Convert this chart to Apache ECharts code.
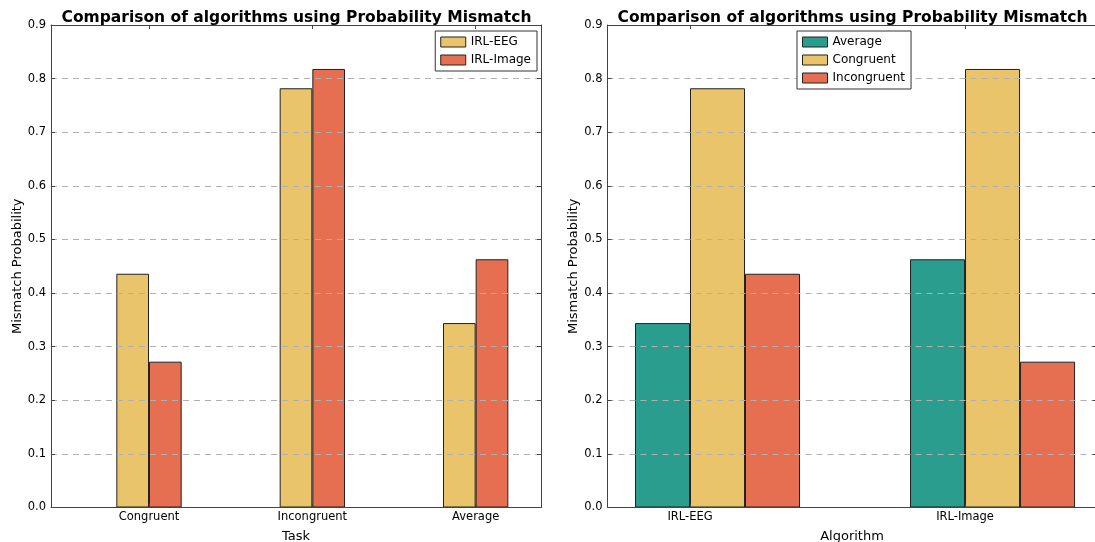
<!DOCTYPE html>
<html>
<head>
<meta charset="utf-8">
<script src="https://cdn.jsdelivr.net/npm/echarts@6/dist/echarts.min.js"></script>
<style>html,body{margin:0;padding:0;background:#fff}#c{width:1095px;height:542px}</style>
</head>
<body>
<div id="c"></div>
<script>
// Left chart data
var tasks = ['Congruent', 'Incongruent', 'Average'];
var irlEEG = [0.436, 0.782, 0.344];
var irlImage = [0.272, 0.818, 0.463];
// Right chart data
var algorithms = ['IRL-EEG', 'IRL-Image'];
var avgVals = [0.344, 0.463];
var congVals = [0.782, 0.818];
var incongVals = [0.436, 0.272];
var yTicks = [0.0, 0.1, 0.2, 0.3, 0.4, 0.5, 0.6, 0.7, 0.8, 0.9];

var C_TEAL = '#2A9D8F', C_YEL = '#E9C46A', C_RED = '#E76F51';
var FONT = 'DejaVu Sans';
var AX = '#444';

var g0 = {left: 51, top: 25, width: 490, height: 482.5, outerBoundsMode: 'none', containLabel: false};
var g1 = {left: 607.5, top: 25, width: 489, height: 482.5, outerBoundsMode: 'none', containLabel: false};
var x0 = {min: -0.6, max: 2.4};
var x1 = {min: -0.3, max: 1.478};
var bw0 = g0.width * 0.2 / (x0.max - x0.min);
var bw1 = g1.width * 0.2 / (x1.max - x1.min);

function idx(arr){ return arr.map(function(_, i){ return i; }); }
function pts(vals, off){ return vals.map(function(v, i){ return [i + off, v]; }); }

function xAxes(gi, lim, cats, name){
  var ticks = idx(cats);
  return [{
    type: 'value', gridIndex: gi, min: lim.min, max: lim.max, position: 'bottom',
    name: name, nameLocation: 'middle', nameGap: 23,
    nameTextStyle: {fontFamily: FONT, fontSize: 13, color: '#000'},
    axisLine: {show: true, onZero: false, lineStyle: {color: AX, width: 1}},
    axisTick: {show: true, inside: true, length: 4, customValues: ticks, lineStyle: {color: AX}},
    axisLabel: {customValues: ticks, fontFamily: FONT, fontSize: 11.5, color: '#000', margin: 4,
      formatter: function(v){ return cats[Math.round(v)] || ''; }},
    splitLine: {show: false}, z: 10
  }, {
    type: 'value', gridIndex: gi, min: lim.min, max: lim.max, position: 'top',
    axisLine: {show: true, onZero: false, lineStyle: {color: AX, width: 1}},
    axisTick: {show: true, inside: true, length: 4, customValues: ticks, lineStyle: {color: AX}},
    axisLabel: {show: false, customValues: ticks},
    splitLine: {show: false}, z: 10
  }];
}
function yAxes(gi){
  return [{
    type: 'value', gridIndex: gi, min: yTicks[0], max: yTicks[yTicks.length - 1], interval: 0.1, position: 'left',
    name: 'Mismatch Probability', nameLocation: 'middle', nameGap: 27,
    nameTextStyle: {fontFamily: FONT, fontSize: 13, color: '#000'},
    axisLine: {show: true, onZero: false, lineStyle: {color: AX, width: 1}},
    axisTick: {show: true, inside: true, length: 4, lineStyle: {color: AX}},
    axisLabel: {fontFamily: FONT, fontSize: 11.5, color: '#000', margin: 5,
      formatter: function(v){ return v.toFixed(1); }},
    splitLine: {show: true, lineStyle: {color: '#b0b0b0', type: [6, 5], width: 1}},
    z: 10
  }, {
    type: 'value', gridIndex: gi, min: yTicks[0], max: yTicks[yTicks.length - 1], interval: 0.1, position: 'right',
    axisLine: {show: true, onZero: false, lineStyle: {color: AX, width: 1}},
    axisTick: {show: true, inside: true, length: 4, lineStyle: {color: AX}},
    axisLabel: {show: false}, splitLine: {show: false}, z: 10
  }];
}

function bar(name, color, data, xi, yi, bw){
  return {
    type: 'bar', name: name, xAxisIndex: xi, yAxisIndex: yi, data: data,
    barWidth: bw, barGap: '0%',
    itemStyle: {color: color, borderColor: '#222', borderWidth: 1},
    emphasis: {disabled: true}, animation: false
  };
}

var legendCommon = {
  orient: 'vertical', itemWidth: 25, itemHeight: 10, itemGap: 6, z: 20,
  padding: [5, 6, 5, 5], borderColor: '#333', borderWidth: 1, backgroundColor: '#fff',
  itemStyle: {borderWidth: 1, borderColor: '#222'},
  textStyle: {fontFamily: FONT, fontSize: 12, color: '#000'}, icon: 'rect', selectedMode: false
};

var option = {
  animation: false,
  title: [
    {text: 'Comparison of algorithms using Probability Mismatch', left: g0.left + g0.width / 2 - 4.5, top: 5, textAlign: 'center',
      textStyle: {fontFamily: FONT, fontSize: 15.5, fontWeight: 'bold', color: '#000'}},
    {text: 'Comparison of algorithms using Probability Mismatch', left: g1.left + g1.width / 2 - 4.5, top: 5, textAlign: 'center',
      textStyle: {fontFamily: FONT, fontSize: 15.5, fontWeight: 'bold', color: '#000'}}
  ],
  grid: [g0, g1],
  xAxis: xAxes(0, x0, tasks, 'Task').concat(xAxes(1, x1, algorithms, 'Algorithm')),
  yAxis: yAxes(0).concat(yAxes(1)),
  legend: [
    Object.assign({}, legendCommon, {data: ['IRL-EEG', 'IRL-Image'], right: 1095 - 537, top: 31}),
    Object.assign({}, legendCommon, {data: ['Average', 'Congruent', 'Incongruent'], left: 797, top: 31})
  ],
  series: [
    bar('IRL-EEG', C_YEL, pts(irlEEG, 0), 0, 0, bw0),
    bar('IRL-Image', C_RED, pts(irlImage, 0), 0, 0, bw0),
    bar('Average', C_TEAL, pts(avgVals, 0.1), 2, 2, bw1),
    bar('Congruent', C_YEL, pts(congVals, 0.1), 2, 2, bw1),
    bar('Incongruent', C_RED, pts(incongVals, 0.1), 2, 2, bw1)
  ]
};
var chart = echarts.init(document.getElementById('c'), null, {renderer: 'canvas'});
chart.setOption(option);
</script>
</body>
</html>
